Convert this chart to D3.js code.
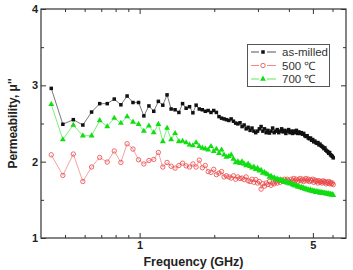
<!DOCTYPE html>
<html>
<head>
<meta charset="utf-8">
<script src="https://cdn.jsdelivr.net/npm/d3@7"></script>
<style>
  body { margin: 0; background: #fff; }
  text { font-family: Arial, "Liberation Sans", sans-serif; }
</style>
</head>
<body>
<div id="chart"></div>
<script>
// frequency grid (GHz)
const freq = [0.44,0.49,0.54,0.59,0.64,0.69,0.74,0.79,0.84,0.89,0.94,0.99,1.04,1.09,1.14,1.19,1.24,1.29,1.34,1.39,
  1.44,1.49,1.54,1.59,1.64,1.69,1.74,1.79,1.84,1.89,1.94,1.99,2.04,2.09,2.14,2.19,2.24,2.29,2.34,2.39,
  2.44,2.49,2.54,2.59,2.64,2.69,2.74,2.79,2.84,2.89,2.94,2.99,3.04,3.09,3.14,3.19,3.24,3.29,3.34,3.39,
  3.44,3.49,3.54,3.59,3.64,3.69,3.74,3.79,3.84,3.89,3.94,3.99,4.04,4.09,4.14,4.19,4.24,4.29,4.34,4.39,
  4.44,4.49,4.54,4.59,4.64,4.69,4.74,4.79,4.84,4.89,4.94,4.99,5.04,5.09,5.14,5.19,5.24,5.29,5.34,5.39,
  5.44,5.49,5.54,5.59,5.64,5.69,5.74,5.79,5.84,5.89,5.94,5.99,6.04];

const asMilled = [2.96,2.49,2.55,2.48,2.65,2.76,2.76,2.82,2.745,2.86,
  2.775,2.775,2.60,2.73,2.66,2.79,2.74,2.875,2.69,2.68,
  2.645,2.76,2.70,2.72,2.64,2.74,2.69,2.68,2.66,2.67,
  2.645,2.67,2.645,2.59,2.57,2.56,2.55,2.54,2.56,2.53,
  2.505,2.495,2.51,2.46,2.48,2.43,2.45,2.41,2.44,2.40,
  2.38,2.40,2.43,2.46,2.40,2.43,2.38,2.41,2.375,2.40,
  2.44,2.38,2.40,2.42,2.38,2.40,2.43,2.39,2.41,2.37,
  2.40,2.42,2.38,2.40,2.37,2.40,2.38,2.41,2.37,2.39,
  2.37,2.38,2.36,2.37,2.34,2.33,2.34,2.31,2.30,2.31,
  2.28,2.29,2.26,2.27,2.25,2.24,2.25,2.22,2.23,2.21,
  2.20,2.19,2.17,2.18,2.15,2.14,2.13,2.11,2.12,2.09,
  2.08,2.07,2.05];

const t500 = [2.09,1.82,2.10,1.74,1.93,2.055,1.995,2.14,1.99,2.235,
  2.165,2.025,1.97,2.015,2.03,2.12,1.93,1.99,1.94,1.915,
  1.95,1.98,1.945,1.93,1.97,1.93,2.02,1.92,1.95,1.87,
  1.86,1.90,1.83,1.85,1.87,1.80,1.815,1.80,1.785,1.815,
  1.77,1.80,1.78,1.785,1.765,1.80,1.75,1.74,1.77,1.73,
  1.765,1.72,1.74,1.64,1.71,1.68,1.72,1.70,1.74,1.69,
  1.72,1.71,1.74,1.72,1.75,1.73,1.76,1.74,1.77,1.75,
  1.77,1.75,1.73,1.77,1.75,1.78,1.75,1.77,1.74,1.76,
  1.78,1.75,1.77,1.74,1.76,1.78,1.75,1.77,1.74,1.76,
  1.75,1.77,1.73,1.76,1.74,1.75,1.72,1.75,1.73,1.74,
  1.72,1.75,1.73,1.74,1.71,1.73,1.72,1.74,1.71,1.73,
  1.71,1.72,1.70];

const t700 = [2.75,2.29,2.48,2.34,2.34,2.54,2.46,2.57,2.505,2.59,
  2.52,2.49,2.40,2.47,2.38,2.49,2.265,2.44,2.29,2.37,
  2.265,2.27,2.25,2.22,2.21,2.25,2.20,2.18,2.17,2.155,
  2.20,2.135,2.165,2.11,2.155,2.09,2.06,2.07,2.09,2.035,
  1.99,2.0,1.98,2.0,1.97,1.95,1.97,1.94,1.92,1.93,
  1.90,1.915,1.88,1.89,1.85,1.86,1.84,1.83,1.80,1.81,
  1.785,1.79,1.77,1.775,1.76,1.765,1.745,1.75,1.73,1.74,
  1.72,1.725,1.71,1.715,1.70,1.695,1.685,1.69,1.67,1.675,
  1.66,1.665,1.65,1.655,1.64,1.645,1.63,1.635,1.62,1.63,
  1.615,1.62,1.61,1.615,1.60,1.61,1.60,1.605,1.59,1.60,
  1.59,1.595,1.585,1.59,1.58,1.585,1.575,1.58,1.57,1.575,
  1.565,1.57,1.56];

const seriesNames = ['as-milled', '500 \u2103', '700 \u2103'];
const xMajor = [1, 5];
const xMinor = [0.5, 0.6, 0.7, 0.8, 0.9, 2, 3, 4, 6];
const yMajor = [1, 2, 3, 4];
const yMinor = [1.5, 2.5, 3.5];

const width = 353, height = 270;
const plotL = 41, plotR = 346, plotT = 9, plotB = 238;

const svg = d3.select('#chart').append('svg')
  .attr('width', width)
  .attr('height', height);

const x = d3.scaleLog().domain([0.4, 6.8]).range([plotL, plotR]);
const y = d3.scaleLinear().domain([1, 4]).range([plotB, plotT]);

const axisColor = '#333';

// ticks, inward on all four sides
function tickAxis(axis, vals, size, tf) {
  return axis.tickValues(vals).tickSizeInner(-size).tickSizeOuter(0).tickFormat(tf || (() => ''));
}

const g = svg.append('g');
g.append('g').attr('transform', 'translate(0,' + plotB + ')')
  .call(tickAxis(d3.axisBottom(x), xMajor, 5, d3.format('d')));
g.append('g').attr('transform', 'translate(0,' + plotB + ')')
  .call(tickAxis(d3.axisBottom(x), xMinor, 3));
g.append('g').attr('transform', 'translate(0,' + plotT + ')')
  .call(tickAxis(d3.axisTop(x), xMajor, 5));
g.append('g').attr('transform', 'translate(0,' + plotT + ')')
  .call(tickAxis(d3.axisTop(x), xMinor, 3));
g.append('g').attr('transform', 'translate(' + plotL + ',0)')
  .call(tickAxis(d3.axisLeft(y), yMajor, 5, d3.format('d')));
g.append('g').attr('transform', 'translate(' + plotL + ',0)')
  .call(tickAxis(d3.axisLeft(y), yMinor, 3));
g.append('g').attr('transform', 'translate(' + plotR + ',0)')
  .call(tickAxis(d3.axisRight(y), yMajor, 5));
g.append('g').attr('transform', 'translate(' + plotR + ',0)')
  .call(tickAxis(d3.axisRight(y), yMinor, 3));

g.selectAll('.domain').remove();
g.selectAll('.tick line').attr('stroke', axisColor);
g.selectAll('.tick text')
  .attr('fill', '#222')
  .style('font-size', '11px')
  .style('font-weight', 'bold');

svg.append('rect')
  .attr('x', plotL).attr('y', plotT)
  .attr('width', plotR - plotL).attr('height', plotB - plotT)
  .attr('fill', 'none')
  .attr('stroke', axisColor)
  .attr('stroke-width', 1.2);

// series
const data = [
  { name: seriesNames[0], vals: asMilled, line: '#555', mark: '#111', kind: 'square' },
  { name: seriesNames[1], vals: t500, line: '#f28a8a', mark: '#e84545', kind: 'circle' },
  { name: seriesNames[2], vals: t700, line: '#55ee55', mark: '#11dd11', kind: 'triangle' }
];

function drawMarker(sel, d, cx, cy) {
  if (d.kind === 'square') {
    sel.append('rect').attr('x', cx - 1.75).attr('y', cy - 1.75)
      .attr('width', 3.5).attr('height', 3.5).attr('fill', d.mark);
  } else if (d.kind === 'circle') {
    sel.append('circle').attr('cx', cx).attr('cy', cy).attr('r', 2.2)
      .attr('fill', 'none').attr('stroke', d.mark).attr('stroke-width', 0.8);
  } else {
    sel.append('path').attr('d', d3.symbol(d3.symbolTriangle, 15)())
      .attr('transform', 'translate(' + cx + ',' + cy + ')')
      .attr('fill', d.mark);
  }
}

// draw order: red, green, black
[1, 2, 0].forEach(k => {
  const d = data[k];
  const pts = freq.map((f, i) => [f, d.vals[i]]);
  const sg = svg.append('g');
  sg.append('path')
    .datum(pts)
    .attr('fill', 'none')
    .attr('stroke', d.line)
    .attr('stroke-width', 0.8)
    .attr('d', d3.line().x(p => x(p[0])).y(p => y(p[1])));
  pts.forEach(p => drawMarker(sg, d, x(p[0]), y(p[1])));
});

// legend
const lg = svg.append('g');
lg.append('rect')
  .attr('x', 247.5).attr('y', 44.5).attr('width', 82).attr('height', 42)
  .attr('fill', '#fff').attr('stroke', '#555').attr('stroke-width', 1);
data.forEach((d, i) => {
  const cy = 52 + i * 13.5;
  lg.append('line').attr('x1', 251).attr('x2', 259).attr('y1', cy).attr('y2', cy)
    .attr('stroke', d.line).attr('stroke-width', 1);
  lg.append('line').attr('x1', 267).attr('x2', 276).attr('y1', cy).attr('y2', cy)
    .attr('stroke', d.line).attr('stroke-width', 1);
  drawMarker(lg, d, 263, cy);
  lg.append('text').attr('x', 282).attr('y', cy + 4)
    .attr('fill', '#333')
    .style('font-size', '11.5px')
    .text(d.name);
});

// axis titles
svg.append('text')
  .attr('x', (plotL + plotR) / 2).attr('y', 266)
  .attr('text-anchor', 'middle')
  .attr('fill', '#222')
  .style('font-size', '12.5px')
  .style('font-weight', 'bold')
  .text('Frequency (GHz)');

svg.append('text')
  .attr('transform', 'translate(17,' + (plotT + plotB) / 2 + ') rotate(-90)')
  .attr('text-anchor', 'middle')
  .attr('fill', '#222')
  .style('font-size', '12px')
  .style('font-weight', 'bold')
  .text('Permeability, \u03bc\'\'');
</script>
</body>
</html>
